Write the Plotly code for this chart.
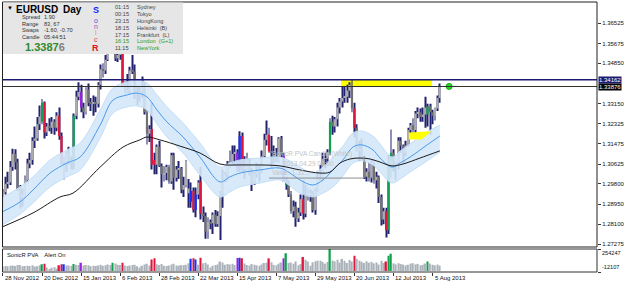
import plotly.graph_objects as go

# ---------------- data ----------------
date_labels = ["28 Nov 2012", "20 Dec 2012", "15 Jan 2013", "6 Feb 2013", "28 Feb 2013",
               "22 Mar 2013", "15 Apr 2013", "7 May 2013", "29 May 2013", "20 Jun 2013",
               "12 Jul 2013", "5 Aug 2013"]
date_bars = [0, 16, 32, 48, 64, 80, 96, 112, 128, 144, 160, 176]

opens = [1.2900, 1.2945, 1.2980, 1.2985, 1.3050, 1.3105, 1.3070, 1.2960, 1.2925, 1.2935,
         1.2995, 1.3065, 1.3080, 1.3160, 1.3170, 1.3230, 1.3240, 1.3320, 1.3195, 1.3220,
         1.3215, 1.3240, 1.3215, 1.3265, 1.3180, 1.3060, 1.3070, 1.3110, 1.3080, 1.3065,
         1.3265, 1.3345, 1.3365, 1.3300, 1.3280, 1.3375, 1.3320, 1.3315, 1.3320, 1.3315,
         1.3395, 1.3460, 1.3455, 1.3500, 1.3575, 1.3580, 1.3650, 1.3505, 1.3520, 1.3525,
         1.3400, 1.3365, 1.3370, 1.3455, 1.3450, 1.3365, 1.3360, 1.3365, 1.3390, 1.3280,
         1.3190, 1.3210, 1.3080, 1.3060, 1.3135, 1.3055, 1.3020, 1.3025, 1.3050, 1.2990,
         1.3100, 1.3005, 1.3040, 1.3045, 1.2955, 1.2975, 1.2940, 1.2905, 1.2950, 1.2870,
         1.2935, 1.2990, 1.2855, 1.2845, 1.2780, 1.2820, 1.2815, 1.2850, 1.2810, 1.2845,
         1.2940, 1.2995, 1.3015, 1.3065, 1.3070, 1.3105, 1.3110, 1.3040, 1.3180, 1.3045,
         1.3050, 1.3050, 1.3030, 1.2985, 1.3020, 1.3030, 1.3030, 1.3095, 1.3165, 1.3185,
         1.3115, 1.3110, 1.3090, 1.3075, 1.3170, 1.3100, 1.2975, 1.2980, 1.2935, 1.2865,
         1.2885, 1.2835, 1.2860, 1.2915, 1.2855, 1.2930, 1.2935, 1.2940, 1.2870, 1.2950,
         1.3000, 1.2995, 1.3085, 1.3085, 1.3110, 1.3240, 1.3220, 1.3250, 1.3300, 1.3325,
         1.3340, 1.3345, 1.3370, 1.3390, 1.3295, 1.3215, 1.3120, 1.3125, 1.3085, 1.3010,
         1.3030, 1.3005, 1.3070, 1.2995, 1.3010, 1.2925, 1.2830, 1.2865, 1.2785, 1.3080,
         1.3110, 1.3065, 1.3060, 1.3160, 1.3140, 1.3110, 1.3140, 1.3205, 1.3225, 1.3205,
         1.3275, 1.3280, 1.3260, 1.3270, 1.3270, 1.3305, 1.3280, 1.3265, 1.3295, 1.3340]
highs = [1.2958, 1.3010, 1.3030, 1.3075, 1.3127, 1.3125, 1.3085, 1.2975, 1.2960, 1.3015,
         1.3085, 1.3110, 1.3175, 1.3220, 1.3260, 1.3308, 1.3335, 1.3325, 1.3235, 1.3255,
         1.3260, 1.3250, 1.3280, 1.3300, 1.3195, 1.3095, 1.3115, 1.3135, 1.3095, 1.3275,
         1.3370, 1.3405, 1.3395, 1.3320, 1.3385, 1.3400, 1.3340, 1.3350, 1.3345, 1.3405,
         1.3480, 1.3485, 1.3520, 1.3590, 1.3620, 1.3711, 1.3670, 1.3595, 1.3590, 1.3575,
         1.3410, 1.3440, 1.3470, 1.3520, 1.3480, 1.3390, 1.3385, 1.3430, 1.3405, 1.3290,
         1.3225, 1.3320, 1.3110, 1.3145, 1.3160, 1.3065, 1.3055, 1.3060, 1.3060, 1.3110,
         1.3110, 1.3055, 1.3075, 1.3050, 1.3010, 1.3080, 1.3000, 1.2985, 1.2965, 1.2965,
         1.2995, 1.3050, 1.2885, 1.2860, 1.2840, 1.2830, 1.2860, 1.2870, 1.2865, 1.2950,
         1.3040, 1.3030, 1.3075, 1.3120, 1.3140, 1.3140, 1.3125, 1.3200, 1.3195, 1.3095,
         1.3110, 1.3085, 1.3045, 1.3030, 1.3070, 1.3060, 1.3120, 1.3190, 1.3245, 1.3215,
         1.3180, 1.3140, 1.3130, 1.3175, 1.3180, 1.3110, 1.3010, 1.2995, 1.2950, 1.2910,
         1.2905, 1.2880, 1.2935, 1.2995, 1.2975, 1.2965, 1.2955, 1.2950, 1.2960, 1.3030,
         1.3060, 1.3110, 1.3110, 1.3125, 1.3255, 1.3265, 1.3260, 1.3320, 1.3340, 1.3390,
         1.3390, 1.3395, 1.3405, 1.3416, 1.3320, 1.3230, 1.3160, 1.3170, 1.3090, 1.3045,
         1.3070, 1.3080, 1.3080, 1.3030, 1.3015, 1.2935, 1.2880, 1.2880, 1.3100, 1.3207,
         1.3125, 1.3070, 1.3175, 1.3175, 1.3145, 1.3160, 1.3215, 1.3235, 1.3255, 1.3285,
         1.3300, 1.3295, 1.3300, 1.3345, 1.3315, 1.3315, 1.3290, 1.3300, 1.3350, 1.3400]
lows = [1.2880, 1.2935, 1.2960, 1.2975, 1.3035, 1.3040, 1.2950, 1.2877, 1.2885, 1.2920,
        1.2985, 1.3045, 1.3060, 1.3130, 1.3160, 1.3205, 1.3230, 1.3170, 1.3180, 1.3200,
        1.3190, 1.3185, 1.3200, 1.3165, 1.3060, 1.2998, 1.3030, 1.3060, 1.3040, 1.3040,
        1.3250, 1.3330, 1.3280, 1.3255, 1.3270, 1.3305, 1.3285, 1.3265, 1.3280, 1.3300,
        1.3375, 1.3425, 1.3440, 1.3495, 1.3555, 1.3575, 1.3495, 1.3490, 1.3500, 1.3390,
        1.3355, 1.3360, 1.3355, 1.3440, 1.3335, 1.3310, 1.3325, 1.3340, 1.3270, 1.3145,
        1.3155, 1.3040, 1.3020, 1.3020, 1.3050, 1.2965, 1.2990, 1.2995, 1.2980, 1.2980,
        1.2955, 1.2990, 1.3000, 1.2940, 1.2925, 1.2965, 1.2880, 1.2880, 1.2860, 1.2840,
        1.2915, 1.2830, 1.2820, 1.2750, 1.2750, 1.2790, 1.2770, 1.2800, 1.2800, 1.2745,
        1.2880, 1.2985, 1.2995, 1.3045, 1.3060, 1.3055, 1.3030, 1.3030, 1.3030, 1.3000,
        1.3030, 1.3015, 1.2950, 1.2975, 1.3005, 1.2990, 1.3025, 1.3090, 1.3140, 1.3110,
        1.3045, 1.3065, 1.3070, 1.3070, 1.3090, 1.2990, 1.2955, 1.2925, 1.2855, 1.2840,
        1.2800, 1.2820, 1.2845, 1.2830, 1.2840, 1.2910, 1.2905, 1.2860, 1.2850, 1.2945,
        1.2990, 1.2990, 1.3045, 1.3060, 1.3100, 1.3185, 1.3195, 1.3220, 1.3275, 1.3300,
        1.3320, 1.3320, 1.3340, 1.3280, 1.3175, 1.3115, 1.3075, 1.3080, 1.3000, 1.2990,
        1.2990, 1.2985, 1.2980, 1.2960, 1.2900, 1.2805, 1.2810, 1.2755, 1.2770, 1.3005,
        1.3030, 1.2995, 1.3040, 1.3110, 1.3065, 1.3095, 1.3135, 1.3175, 1.3175, 1.3175,
        1.3255, 1.3240, 1.3240, 1.3215, 1.3220, 1.3185, 1.3230, 1.3245, 1.3285, 1.3320]
closes = [1.2945, 1.2980, 1.2985, 1.3050, 1.3105, 1.3070, 1.2960, 1.2925, 1.2935, 1.2995,
          1.3065, 1.3080, 1.3160, 1.3170, 1.3230, 1.3262, 1.3320, 1.3195, 1.3220, 1.3215,
          1.3240, 1.3215, 1.3265, 1.3180, 1.3075, 1.3070, 1.3110, 1.3080, 1.3065, 1.3265,
          1.3345, 1.3365, 1.3300, 1.3280, 1.3375, 1.3320, 1.3315, 1.3320, 1.3315, 1.3395,
          1.3460, 1.3455, 1.3500, 1.3575, 1.3580, 1.3650, 1.3505, 1.3520, 1.3525, 1.3400,
          1.3365, 1.3370, 1.3455, 1.3450, 1.3365, 1.3360, 1.3365, 1.3390, 1.3280, 1.3190,
          1.3210, 1.3060, 1.3060, 1.3135, 1.3055, 1.3020, 1.3025, 1.3050, 1.2990, 1.3100,
          1.3005, 1.3040, 1.3045, 1.2955, 1.2975, 1.3075, 1.2960, 1.2950, 1.2870, 1.2935,
          1.2985, 1.2855, 1.2845, 1.2780, 1.2820, 1.2815, 1.2850, 1.2810, 1.2845, 1.2940,
          1.2995, 1.3015, 1.3065, 1.3070, 1.3105, 1.3110, 1.3040, 1.3180, 1.3045, 1.3050,
          1.3050, 1.3030, 1.2985, 1.3020, 1.3030, 1.3030, 1.3095, 1.3165, 1.3185, 1.3115,
          1.3110, 1.3090, 1.3075, 1.3170, 1.3100, 1.2995, 1.2980, 1.2935, 1.2865, 1.2885,
          1.2835, 1.2860, 1.2915, 1.2855, 1.2930, 1.2935, 1.2940, 1.2870, 1.2950, 1.3000,
          1.2995, 1.3085, 1.3085, 1.3110, 1.3240, 1.3220, 1.3250, 1.3300, 1.3325, 1.3340,
          1.3345, 1.3370, 1.3395, 1.3295, 1.3215, 1.3120, 1.3125, 1.3085, 1.3010, 1.3030,
          1.3005, 1.3070, 1.2995, 1.3010, 1.2925, 1.2830, 1.2865, 1.2785, 1.3080, 1.3110,
          1.3065, 1.3060, 1.3160, 1.3140, 1.3110, 1.3140, 1.3205, 1.3225, 1.3205, 1.3275,
          1.3280, 1.3260, 1.3270, 1.3300, 1.3305, 1.3280, 1.3265, 1.3295, 1.3340, 1.3388]
volumes_k = [52, 58, 55, 60, 62, 57, 70, 68, 54, 56, 60, 58, 66, 52, 55, 62,
             77, 83, 40, 22, 38, 42, 25, 65, 77, 77, 64, 62, 60, 80, 72, 70, 95,
             62, 70, 66, 55, 60, 58, 64, 72, 60, 66, 75, 70, 95, 85, 72, 70, 95,
             62, 58, 64, 68, 72, 55, 40, 60, 74, 82, 64, 132, 146,
             78, 70, 80, 60, 58, 62, 76, 84, 62, 60, 70, 66, 72, 90, 140, 146, 132, 72, 154,
             88, 96, 74, 40, 60, 70, 76, 110, 98, 72, 80, 76, 84, 70, 150, 154, 146,
             86, 70, 62, 80, 72, 66, 60, 74, 92, 96, 146, 100, 70, 66, 84, 98, 146, 206,
             92, 98, 84, 110, 66, 80, 162, 130, 110, 60, 100, 112, 120, 118, 105, 85, 104,
             254.247, 120, 112, 130, 96, 140, 118, 92, 128, 110, 176,
             140, 120, 106, 92, 112, 96, 104, 88, 98, 74, 118, 92, 110, 176, 198,
             88, 76, 90, 80, 74, 64, 72, 84, 90, 76, 82, 66, 70, 86, 110, 86, 72, 66, 74, 62]

# PVA signal bars
red_bars = [17, 23, 24, 49, 61, 62, 78, 81, 98, 109, 123, 144, 157]
green_bars = [16, 29, 45, 116, 134, 158, 159, 174]
blue_bars = [25, 77, 79, 97]
purple_bars = [32, 96, 115]

# moving averages (bar index, price)
ma_idx = [-0.4, 7.0, 12.3, 19.3, 26.2, 31.6, 39.8, 45.1, 50.8, 54.9, 59.0, 63.1, 67.2, 73.8,
          80.7, 88.9, 93.0, 97.1, 105.3, 113.5, 117.6, 121.7, 127.0, 131.1, 135.2, 139.3,
          143.4, 147.1, 151.6, 154.5, 159.4, 162.7, 166.8, 173.8, 179.0]
band_upper = [1.2921, 1.2967, 1.3009, 1.3080, 1.3122, 1.3151, 1.3289, 1.3381, 1.3407, 1.3415,
              1.3402, 1.3352, 1.3302, 1.3235, 1.3151, 1.3050, 1.3067, 1.3080, 1.3088, 1.3092,
              1.3076, 1.3050, 1.3025, 1.3050, 1.3092, 1.3138, 1.3193, 1.3201, 1.3180, 1.3147,
              1.3092, 1.3117, 1.3147, 1.3197, 1.3226]
ma_fast = [1.2862, 1.2904, 1.2954, 1.3025, 1.3067, 1.3092, 1.3226, 1.3331, 1.3352, 1.3360,
           1.3344, 1.3289, 1.3239, 1.3176, 1.3092, 1.2988, 1.3009, 1.3025, 1.3038, 1.3046,
           1.3025, 1.2996, 1.2975, 1.2996, 1.3038, 1.3080, 1.3134, 1.3143, 1.3122, 1.3088,
           1.3050, 1.3067, 1.3092, 1.3143, 1.3180]
band_lower = [1.2807, 1.2853, 1.2900, 1.2967, 1.3009, 1.3038, 1.3172, 1.3277, 1.3302, 1.3306,
              1.3289, 1.3231, 1.3176, 1.3109, 1.3017, 1.2925, 1.2946, 1.2967, 1.2983, 1.2996,
              1.2971, 1.2941, 1.2925, 1.2941, 1.2967, 1.3013, 1.3067, 1.3076, 1.3059, 1.3029,
              1.2983, 1.3000, 1.3029, 1.3076, 1.3113]
slow_idx = [-0.4, 12.3, 23.4, 28.7, 39.8, 49.2, 56.1, 59.0, 64.3, 72.5, 80.7, 88.9, 97.1,
            105.3, 113.5, 121.7, 129.9, 134.0, 138.1, 142.2, 146.3, 150.4, 154.5, 159.4,
            163.9, 170.9, 179.0]
ma_slow = [1.2799, 1.2858, 1.2925, 1.2941, 1.3050, 1.3134, 1.3164, 1.3176, 1.3164, 1.3138,
           1.3109, 1.3063, 1.3059, 1.3059, 1.3055, 1.3038, 1.3025, 1.3029, 1.3067, 1.3084,
           1.3088, 1.3084, 1.3071, 1.3055, 1.3063, 1.3088, 1.3118]

level_high = 1.34162
level_last = 1.33876
price_ticks = [1.36525, 1.35675, 1.34850, 1.33150, 1.32325, 1.31475, 1.30625,
               1.29800, 1.28950, 1.28100, 1.27275]
vol_max = 254247
vol_min = -12107

zone_top = dict(i0=138.5, i1=175.8, p0=1.3390, p1=1.3415)
zone_small_i = [166.3, 175.5, 171.5, 166.3]
zone_small_p = [1.3195, 1.3200, 1.3166, 1.3166]
tip_box = dict(i0=109.0, i1=148.0, p_top=1.3097, p_bot=1.3004)
dot_i, dot_p = 182.8, 1.3388

# ---------------- geometry helpers ----------------
W, H = 625, 284
def px(x):
    return x / W
def py(y):
    return 1 - y / H

X0, X1 = 2.5, 597
main_dom = [py(247), py(2)]
vol_dom = [py(272), py(249)]
FONT = "Liberation Sans, Arial, sans-serif"

n = len(closes)
idx = list(range(n))
C_RED, C_GREEN, C_BLUE, C_PURPLE = "#e0143c", "#12a04e", "#1432ff", "#9a1ee0"

def sig_color(i, default):
    if i in red_bars:
        return C_RED
    if i in green_bars:
        return C_GREEN
    if i in blue_bars:
        return C_BLUE
    if i in purple_bars:
        return C_PURPLE
    return default

body_colors = [sig_color(i, "#acacac" if closes[i] >= opens[i] else "#707070") for i in idx]
vol_colors = [sig_color(i, "#aab2ba") for i in idx]

fig = go.Figure()

# dragon band
fig.add_trace(go.Scatter(x=ma_idx, y=band_upper, mode="lines",
                         line=dict(color="#c2def6", width=1, shape="spline", smoothing=1),
                         hoverinfo="skip", showlegend=False))
fig.add_trace(go.Scatter(x=ma_idx, y=band_lower, mode="lines", fill="tonexty",
                         fillcolor="rgba(212,232,250,0.9)",
                         line=dict(color="#c2def6", width=1, shape="spline", smoothing=1),
                         hoverinfo="skip", showlegend=False))

# candles: wicks then bodies
fig.add_trace(go.Bar(x=idx, base=lows, y=[h - l for h, l in zip(highs, lows)], width=0.36,
                     marker=dict(color="#22226e", line=dict(width=0)),
                     hoverinfo="skip", showlegend=False))
fig.add_trace(go.Bar(x=idx, base=[min(o, c) for o, c in zip(opens, closes)],
                     y=[max(abs(c - o), 0.0001) for o, c in zip(opens, closes)], width=0.9,
                     marker=dict(color=body_colors, line=dict(width=0)),
                     hoverinfo="skip", showlegend=False))

# MA lines
fig.add_trace(go.Scatter(x=ma_idx, y=ma_fast, mode="lines",
                         line=dict(color="#4a98ea", width=1, shape="spline", smoothing=1),
                         hoverinfo="skip", showlegend=False))
fig.add_trace(go.Scatter(x=slow_idx, y=ma_slow, mode="lines",
                         line=dict(color="#1a1a1a", width=1, shape="spline", smoothing=1),
                         hoverinfo="skip", showlegend=False))

# small yellow zone
fig.add_trace(go.Scatter(x=zone_small_i + [zone_small_i[0]], y=zone_small_p + [zone_small_p[0]],
                         mode="lines", fill="toself", fillcolor="#ffff00",
                         line=dict(color="#ffff00", width=0), hoverinfo="skip", showlegend=False))

# green dot
fig.add_trace(go.Scatter(x=[dot_i], y=[dot_p], mode="markers",
                         marker=dict(color="#22dd22", size=6, line=dict(color="#11aa11", width=1)),
                         hoverinfo="skip", showlegend=False))

# volume
fig.add_trace(go.Bar(x=idx, y=[v * 1000 for v in volumes_k], width=0.6, yaxis="y2",
                     marker=dict(color=vol_colors, line=dict(width=0)),
                     hoverinfo="skip", showlegend=False))

shapes = []
shapes.append(dict(type="rect", xref="x", yref="y", x0=zone_top["i0"], x1=zone_top["i1"],
                   y0=zone_top["p0"], y1=zone_top["p1"], fillcolor="#ffff00",
                   line=dict(width=0), layer="below"))
shapes.append(dict(type="line", xref="paper", yref="y", x0=px(X0), x1=px(X1),
                   y0=level_high, y1=level_high, line=dict(color="#1a1a70", width=1.6)))
shapes.append(dict(type="line", xref="paper", yref="y", x0=px(X0), x1=px(X1),
                   y0=level_last, y1=level_last, line=dict(color="#303030", width=1)))
shapes.append(dict(type="line", xref="x", yref="y", x0=tip_box["i0"], x1=tip_box["i1"],
                   y0=tip_box["p_bot"], y1=tip_box["p_bot"], line=dict(color="#8c8c8c", width=1)))
shapes.append(dict(type="line", xref="x", yref="y", x0=tip_box["i1"], x1=tip_box["i1"],
                   y0=tip_box["p_bot"], y1=tip_box["p_top"], line=dict(color="#8c8c8c", width=1)))
shapes.append(dict(type="rect", xref="paper", yref="paper", x0=px(X0), x1=px(X1),
                   y0=main_dom[0], y1=main_dom[1], line=dict(color="#202020", width=1)))
shapes.append(dict(type="rect", xref="paper", yref="paper", x0=px(X0), x1=px(X1),
                   y0=vol_dom[0], y1=vol_dom[1], line=dict(color="#303030", width=1)))
shapes.append(dict(type="rect", xref="paper", yref="paper", x0=px(3), x1=px(183),
                   y0=py(54), y1=py(2.5), fillcolor="#e6e6e6", line=dict(width=0), layer="above"))

ann = []
def txt(x, y, s, size=6, color="#222222", anchor="left", bold=False, **kw):
    if bold:
        s = "<b>" + s + "</b>"
    ann.append(dict(x=px(x), y=py(y), xref="paper", yref="paper", text=s, showarrow=False,
                    xanchor=anchor, yanchor="middle",
                    font=dict(family=FONT, size=size, color=color), **kw))

txt(5, 8, "▼", size=6, color="#000000")
txt(14, 10, "EURUSD", size=10, color="#000000", bold=True)
txt(61, 10, "Day", size=10, color="#000000", bold=True)
for k, (lab, val) in enumerate(zip(["Spread", "Range", "Swaps", "Candle"],
                                   ["1.90", "83, 67", "-1.60, -0.70", "05:44:51"])):
    txt(20, 17.5 + 6.4 * k, lab, size=5.6, color="#333333")
    txt(42, 17.5 + 6.4 * k, val, size=5.6, color="#333333")
txt(23, 46.5, "1.3387<span style='color:#808080'>6</span>", size=11, color="#2e8b2e", bold=True)
for ch, y, sz, col, b in [("S", 10, 9, "#1a1aff", True), ("o", 20, 7, "#5a50e0", False),
                          ("n", 26.5, 7, "#8a5ad0", False), ("i", 33, 7, "#e07aa8", False),
                          ("c", 39.5, 7, "#e04050", False), ("R", 48, 9, "#e01020", True)]:
    txt(96, y, ch, size=sz, color=col, anchor="center", bold=b)
times = ["01:15", "00:15", "23:15", "18:15", "17:15", "16:15", "11:15"]
cities = ["Sydney", "Tokyo", "HongKong", "Helsinki  (B)", "Frankfurt  (L)", "London  (G+1)", "NewYork"]
for k, (t, c) in enumerate(zip(times, cities)):
    y = 7 + 6.9 * k
    tcol = "#1f9a1f" if k == 5 else "#444444"
    ccol = "#1f9a1f" if k >= 5 else "#444444"
    txt(113, y, t, size=5.6, color=tcol)
    txt(135, y, c, size=5.6, color=ccol)

txt(270, 154, "SonicR PVA Candle (White)", size=6.5, color="#c4c4c4")
txt(281, 163, "2013.04.29 00:00", size=6.5, color="#c4c4c4")
txt(270, 172, "Value: 1.31...", size=6.5, color="#c4c4c4")

txt(5, 254.5, "SonicR PVA    Alert On", size=5.8, color="#111111")
txt(600, 252.5, str(vol_max), size=5.6, color="#111111")
txt(600, 267, str(vol_min), size=5.6, color="#111111")

for lvl, bg in [(level_high, "#1a1a70"), (level_last, "#000000")]:
    ann.append(dict(x=px(598), y=lvl, xref="paper", yref="y", text="%.5f" % lvl, showarrow=False,
                    xanchor="left", yanchor="middle", bgcolor=bg, borderpad=0,
                    font=dict(family=FONT, size=6, color="#ffffff")))

for b, lab in zip(date_bars, date_labels):
    ann.append(dict(x=b, y=py(278), xref="x", yref="paper", text=lab, showarrow=False,
                    xanchor="left", yanchor="middle",
                    font=dict(family=FONT, size=6, color="#111111")))

fig.update_layout(
    width=W, height=H, margin=dict(l=0, r=0, t=0, b=0),
    paper_bgcolor="#ffffff", plot_bgcolor="#ffffff",
    barmode="overlay", showlegend=False,
    xaxis=dict(domain=[px(X0), px(X1)], range=[-0.2, 243.4], anchor="y2",
               tickvals=date_bars, ticks="outside", ticklen=3, tickcolor="#333333",
               showticklabels=False, showgrid=False, zeroline=False, showline=False),
    yaxis=dict(domain=main_dom, range=[1.27152, 1.37417], side="right", anchor="x",
               tickvals=price_ticks, ticktext=["%.5f" % t for t in price_ticks],
               ticks="outside", ticklen=3, tickcolor="#333333",
               tickfont=dict(family=FONT, size=6, color="#111111"),
               showgrid=False, zeroline=False, showline=False),
    yaxis2=dict(domain=vol_dom, range=[vol_min, vol_max], anchor="x", side="right",
                showticklabels=False, showgrid=False, zeroline=False, showline=False,
                tickvals=[vol_max, vol_min], ticks="outside", ticklen=3, tickcolor="#333333"),
    shapes=shapes, annotations=ann,
)

fig.write_html("out.html")
